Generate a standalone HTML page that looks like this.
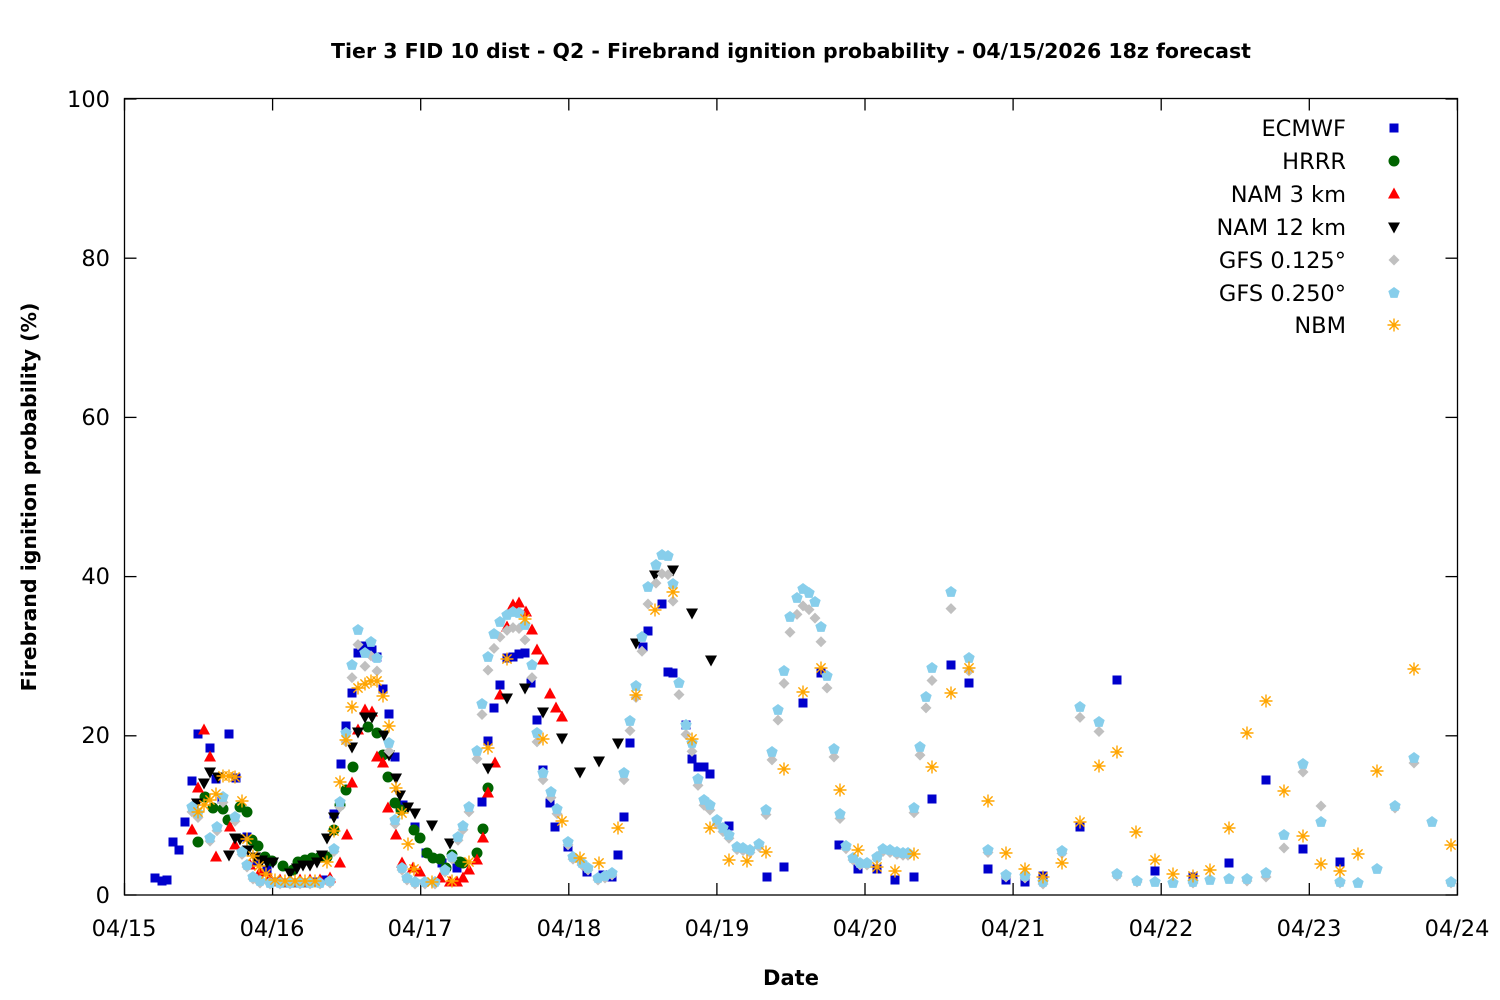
<!DOCTYPE html>
<html><head><meta charset="utf-8"><style>
html,body{margin:0;padding:0;background:#fff}
svg{display:block}
text{font-family:"DejaVu Sans","Liberation Sans",sans-serif;fill:#000}
</style></head><body>
<svg id="s" width="1500" height="1000" xmlns="http://www.w3.org/2000/svg">
<rect width="1500" height="1000" fill="#fff"/>
<text x="791" y="58" text-anchor="middle" font-size="20.5" font-weight="bold">Tier 3 FID 10 dist - Q2 - Firebrand ignition probability - 04/15/2026 18z forecast</text>
<text x="791" y="985" text-anchor="middle" font-size="21" font-weight="bold">Date</text>
<text transform="translate(36,497) rotate(-90)" text-anchor="middle" font-size="20.5" font-weight="bold">Firebrand ignition probability (%)</text>
<g font-size="22.5" text-anchor="end">
<text x="110" y="107">100</text><text x="110" y="266">80</text><text x="110" y="425">60</text><text x="110" y="584">40</text><text x="110" y="743">20</text><text x="110" y="903">0</text>
</g>
<g font-size="22.5" text-anchor="middle">
<text x="124" y="936">04/15</text><text x="272" y="936">04/16</text><text x="420" y="936">04/17</text><text x="569" y="936">04/18</text><text x="717" y="936">04/19</text><text x="865" y="936">04/20</text><text x="1013" y="936">04/21</text><text x="1161" y="936">04/22</text><text x="1309" y="936">04/23</text><text x="1457" y="936">04/24</text>
</g>
<g font-size="22.5" text-anchor="end">
<text x="1346" y="136">ECMWF</text><text x="1346" y="169">HRRR</text><text x="1346" y="202">NAM 3 km</text><text x="1346" y="235">NAM 12 km</text><text x="1346" y="268">GFS 0.125°</text><text x="1346" y="301">GFS 0.250°</text><text x="1346" y="333">NBM</text>
</g>
<g id="ticks" stroke="#000" stroke-width="1.3" fill="none"></g>
<g id="pts"></g>
<rect x="124.5" y="98.5" width="1333" height="796.5" fill="none" stroke="#000" stroke-width="1.3"/>
</svg>
<script>
var NS="http://www.w3.org/2000/svg";
var T=document.getElementById("ticks"),P=document.getElementById("pts");
function el(p,tag,a){var e=document.createElementNS(NS,tag);for(var k in a)e.setAttribute(k,a[k]);p.appendChild(e);return e;}
for(var i=0;i<=5;i++){var y=895-i*159.2;el(T,"line",{x1:124.5,y1:y,x2:136.5,y2:y});el(T,"line",{x1:1445.5,y1:y,x2:1457.5,y2:y});}
for(var i=0;i<=9;i++){var x=124.5+i*148.1;el(T,"line",{x1:x,y1:895,x2:x,y2:883});el(T,"line",{x1:x,y1:98.5,x2:x,y2:110.5});}
function sq(x,y){el(P,"rect",{x:x-4.5,y:y-4.5,width:9,height:9,fill:"#0000cc"});}
function ci(x,y){el(P,"circle",{cx:x,cy:y,r:5.5,fill:"#006400"});}
function tu(x,y){el(P,"polygon",{points:(x-6)+","+(y+4.5)+" "+(x+6)+","+(y+4.5)+" "+x+","+(y-6.5),fill:"#ff0000"});}
function td(x,y){el(P,"polygon",{points:(x-6)+","+(y-4.5)+" "+(x+6)+","+(y-4.5)+" "+x+","+(y+6.5),fill:"#000"});}
function di(x,y){el(P,"polygon",{points:x+","+(y-5.5)+" "+(x+5.5)+","+y+" "+x+","+(y+5.5)+" "+(x-5.5)+","+y,fill:"#c0c0c0"});}
function pe(x,y){var s="";for(var k=0;k<5;k++){var a=-Math.PI/2+k*2*Math.PI/5;s+=(x+6*Math.cos(a)).toFixed(1)+","+(y+6*Math.sin(a)).toFixed(1)+" ";}el(P,"polygon",{points:s,fill:"#87ceeb"});}
function st(x,y){var r=6.5,d="";for(var k=0;k<4;k++){var a=k*Math.PI/4;d+="M"+(x-r*Math.cos(a))+","+(y-r*Math.sin(a))+"L"+(x+r*Math.cos(a))+","+(y+r*Math.sin(a));}el(P,"path",{d:d,stroke:"#ffa500","stroke-width":1.4,fill:"none"});}
function run(f,a){for(var i=0;i<a.length;i+=2)f(a[i],a[i+1]);}
var E=[155,878,162,881,167,880,173,842,179,850,185,822,192,781,198,734,210,748,216,779,229,734,236,778,222,799,247,837,257,862,267,870,275,882,285,883,295,883,305,883,315,882,325,880,334,814,341,764,346,726,352,693,358,653,363,646,372,650,377,657,383,689,389,714,395,757,403,805,415,827,426,853,442,863,457,868,482,802,488,741,494,708,500,685,507,658,513,657,519,654,525,653,531,683,537,720,543,770,550,803,555,827,568,847,587,872,603,875,612,877,618,855,624,817,630,743,643,647,648,631,662,604,668,672,673,673,686,725,692,759,698,767,704,767,710,774,729,826,767,877,784,867,803,703,821,673,839,845,858,869,877,869,895,880,914,877,932,799,951,665,969,683,988,869,1006,880,1025,882,1043,876,1080,827,1117,680,1155,871,1193,877,1229,863,1266,780,1303,849,1340,862];
var H=[198,842,205,797,213,808,223,809,228,820,240,807,247,812,252,840,258,846,265,857,272,861,283,866,293,870,298,862,305,860,312,858,320,857,327,857,334,830,340,805,346,790,353,767,368,727,377,733,383,755,388,777,395,803,401,810,414,830,420,838,427,853,433,858,440,859,446,868,452,855,460,862,463,863,477,853,483,829,488,788];
var N3=[192,830,198,788,204,730,210,757,216,857,230,827,235,845,250,865,260,872,270,878,280,880,290,880,300,880,310,880,320,880,330,878,340,863,347,835,352,783,358,730,365,710,372,712,377,757,383,763,388,808,396,835,402,863,413,868,420,872,440,878,450,882,457,882,463,878,469,870,477,860,483,838,488,793,495,763,500,695,507,627,513,605,519,603,526,612,532,630,537,650,543,660,550,694,556,708,562,717];
var N12=[197,803,204,783,210,772,218,777,229,855,235,838,240,839,248,850,255,857,262,860,267,862,273,862,290,873,297,868,303,865,310,865,317,862,322,855,327,838,334,817,352,747,358,732,365,717,372,717,384,735,389,755,396,778,400,795,408,807,415,813,432,825,450,843,488,768,507,698,525,688,543,712,562,738,580,772,599,761,618,743,636,643,655,575,673,570,692,613,711,660];
var LB=[192,807,198,813,210,838,217,827,223,797,235,817,242,852,247,865,253,877,260,881,270,883,280,883,290,883,300,883,310,883,320,883,330,881,334,849,340,802,346,733,352,665,358,630,365,653,371,642,377,658,389,743,395,820,402,868,407,878,415,882,425,882,435,882,445,870,452,857,458,837,463,826,469,807,477,751,482,704,488,657,494,634,500,622,507,615,513,612,519,613,525,625,532,665,537,733,543,773,551,792,557,809,568,842,573,857,582,863,588,868,598,878,605,876,612,873,624,773,630,721,636,686,642,637,648,587,656,565,662,555,668,556,673,584,679,683,686,725,692,743,698,779,704,800,710,805,717,820,723,828,729,835,737,847,743,848,750,850,759,844,766,810,772,752,778,710,784,671,790,617,797,598,803,589,809,593,815,602,821,627,827,676,834,749,840,814,846,846,853,858,860,863,867,863,877,857,883,849,890,850,897,852,903,853,908,853,914,808,920,747,926,697,932,668,951,592,969,658,988,850,1006,875,1025,876,1043,882,1062,851,1080,707,1099,722,1117,874,1137,881,1155,882,1173,883,1193,882,1210,880,1229,879,1247,879,1266,873,1284,835,1303,764,1321,822,1340,882,1358,883,1377,869,1395,806,1414,758,1432,822,1451,882];
var NB=[198,812,204,805,210,800,216,794,223,776,229,776,235,777,242,801,247,839,253,856,259,866,266,874,275,880,285,881,295,881,305,881,315,881,327,862,334,831,340,782,346,740,352,707,358,688,365,684,371,681,377,681,383,696,389,726,396,788,402,813,408,844,414,869,432,882,452,881,469,862,488,748,507,659,525,619,543,739,562,821,580,858,599,863,618,828,636,695,655,610,673,592,692,739,710,828,729,860,747,861,766,852,784,769,803,692,821,668,840,790,858,850,877,867,895,871,914,854,932,767,951,693,969,668,988,801,1006,853,1025,869,1043,877,1062,863,1080,822,1099,766,1117,752,1136,832,1155,860,1173,874,1193,876,1210,870,1229,828,1247,733,1266,701,1284,791,1303,836,1321,864,1340,871,1358,854,1377,771,1414,669,1451,845];
var G=[];for(var i=0;i<LB.length;i+=2){var x=LB[i],y=LB[i+1];if(x>1120)continue;G.push(x,Math.min(884,y+Math.max(2,(895-y)*0.055)));}
G.push(1266,877,1284,848,1303,772,1321,806,1395,808,1414,763,1137,882,1193,883,1247,881,1340,883,1451,883);
run(sq,E);run(ci,H);run(tu,N3);run(td,N12);run(di,G);run(pe,LB);run(st,NB);
sq(1394,128);ci(1394,161);tu(1394,194);td(1394,227);di(1394,260);pe(1394,293);st(1394,325);
</script>
</body></html>
